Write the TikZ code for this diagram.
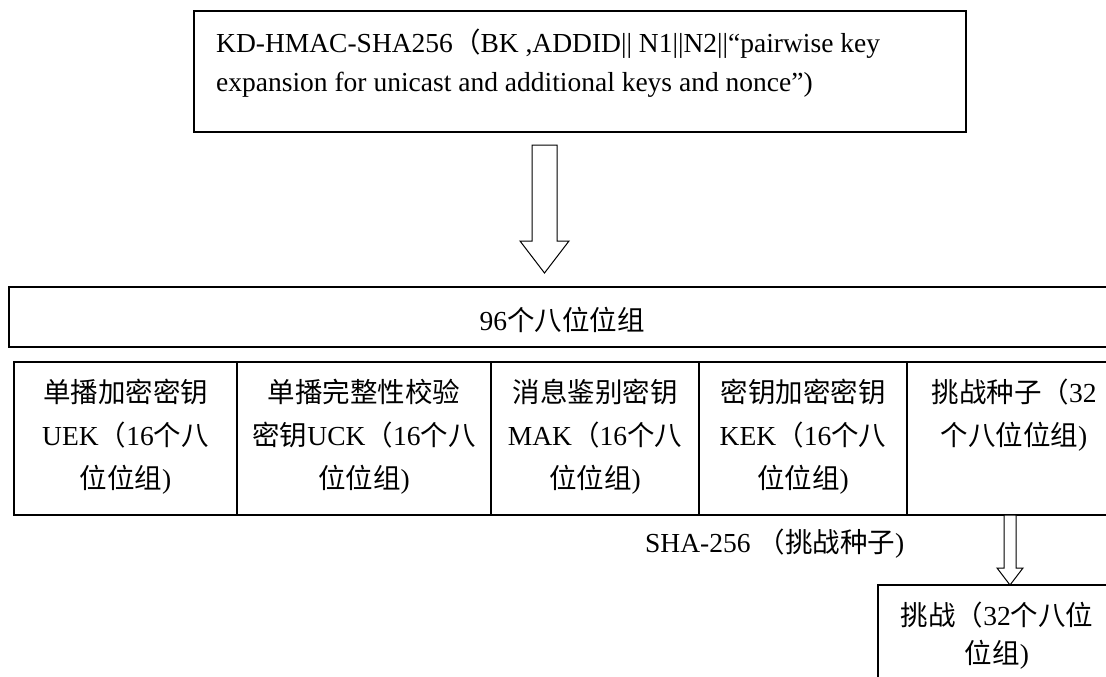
\documentclass[tikz,border=0pt]{standalone}
\usepackage{fontspec}
\setmainfont{Liberation Serif}
\newfontfamily\cjk{Noto Sans CJK SC}
\newcommand\cj[1]{{\cjk #1}}
\begin{document}
\begin{tikzpicture}[x=1pt,y=-1pt,
  box/.style={draw, line width=1.5pt, rectangle, inner sep=0pt, outer sep=0pt},
  txt/.style={font=\fontsize{27.5}{43}\selectfont, inner sep=0pt, anchor=base},
  ltxt/.style={font=\fontsize{27.5}{39}\selectfont, inner sep=0pt, anchor=base west},
  blockarrow/.style={draw, line width=1pt, fill=white, line join=miter}]
\useasboundingbox (0,0) rectangle (1106,677);
\clip (0,0) rectangle (1106,677);
% top box
\node[box, minimum width=772, minimum height=121] (top) at (580,71.5) {};
\node[ltxt] (toptext) at (216,53) {\parbox[t]{740pt}{\raggedright
  KD-HMAC-SHA256\cj{（}BK ,ADDID|| N1||N2||“pairwise key\\
  expansion for unicast and additional keys and nonce”)}};
% big hollow arrow
\draw[blockarrow] (532,145) -- (557,145) -- (557,241) -- (569,241) -- (544.5,273) -- (520,241) -- (532,241) -- cycle;
% 96 octets box
\node[box, minimum width=1106, minimum height=60] (all) at (562,317) {};
\node[txt] (alltext) at (562,330) {96\cj{个八位位组}};
% row of five boxes
\node[box, minimum width=223, minimum height=153] (b1) at (125.5,438.5) {};
\node[box, minimum width=254, minimum height=153] (b2) at (364,438.5) {};
\node[box, minimum width=208, minimum height=153] (b3) at (595,438.5) {};
\node[box, minimum width=208, minimum height=153] (b4) at (803,438.5) {};
\node[box, minimum width=214, minimum height=153] (b5) at (1014,438.5) {};
\node[txt] (t1) at (125.5,402) {\parbox[t]{215pt}{\centering
  \cj{单播加密密钥}\\UEK\cj{（}16\cj{个八}\\\cj{位位组})}};
\node[txt] (t2) at (364,402) {\parbox[t]{240pt}{\centering
  \cj{单播完整性校验}\\\cj{密钥}UCK\cj{（}16\cj{个八}\\\cj{位位组})}};
\node[txt] (t3) at (595,402) {\parbox[t]{200pt}{\centering
  \cj{消息鉴别密钥}\\MAK\cj{（}16\cj{个八}\\\cj{位位组})}};
\node[txt] (t4) at (803,402) {\parbox[t]{200pt}{\centering
  \cj{密钥加密密钥}\\KEK\cj{（}16\cj{个八}\\\cj{位位组})}};
\node[txt] (t5) at (1014,402) {\parbox[t]{205pt}{\centering
  \cj{挑战种子（}32\\\cj{个八位位组})}};
% SHA-256 label
\node[txt, anchor=base west] (sha) at (645,552) {SHA-256 \cj{（挑战种子})};
% small hollow arrow
\draw[blockarrow] (1004,515) -- (1016,515) -- (1016,568) -- (1023,568) -- (1010,585) -- (997,568) -- (1004,568) -- cycle;
% challenge box
\node[box, minimum width=238, minimum height=130] (ch) at (997,650) {};
\node[txt, font=\fontsize{27.5}{38}\selectfont] (chtext) at (997,625) {\parbox[t]{230pt}{\centering
  \cj{挑战（}32\cj{个八位}\\\cj{位组})}};
\end{tikzpicture}
\end{document}
